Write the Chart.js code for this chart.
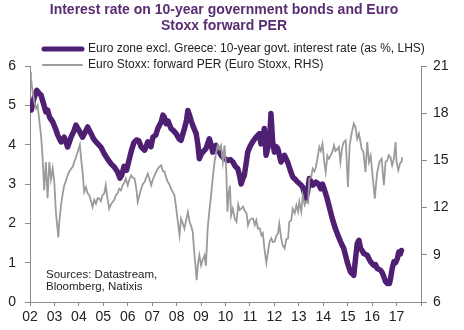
<!DOCTYPE html>
<html>
<head>
    <meta charset="UTF-8">
    <title>Interest rate on 10-year government bonds and Euro Stoxx forward PER</title>
    <script src="https://cdn.jsdelivr.net/npm/chart.js"></script>
    <style>
        html, body { margin: 0; padding: 0; background: #fff; }
        #wrap { position: relative; width: 464px; height: 330px; }
    </style>
</head>
<body>
<div id="wrap"><canvas id="myChart" width="464" height="330"></canvas></div>

<script>
    // Euro zone excl. Greece, 10-year govt. rate (%), [year, value]
    const rateSeries = [
        [2002.00, 5.05], [2002.05, 4.88], [2002.15, 5.15], [2002.28, 5.38], [2002.38, 5.30],
        [2002.45, 5.26], [2002.55, 5.05], [2002.65, 4.83], [2002.72, 4.88], [2002.80, 4.70],
        [2002.93, 4.58], [2003.05, 4.40], [2003.13, 4.25], [2003.27, 4.07], [2003.40, 4.19],
        [2003.54, 3.94], [2003.68, 4.19], [2003.80, 4.35], [2003.88, 4.50], [2004.00, 4.37],
        [2004.15, 4.19], [2004.28, 4.35], [2004.36, 4.45], [2004.50, 4.28], [2004.60, 4.15],
        [2004.70, 4.07], [2004.90, 3.94], [2005.04, 3.77], [2005.17, 3.64], [2005.31, 3.52],
        [2005.45, 3.43], [2005.58, 3.31], [2005.68, 3.15], [2005.75, 3.22], [2005.85, 3.45],
        [2005.95, 3.35], [2006.05, 3.60], [2006.15, 3.85], [2006.25, 4.05], [2006.36, 4.12],
        [2006.45, 4.10], [2006.55, 3.94], [2006.69, 3.86], [2006.82, 4.07], [2006.95, 3.95],
        [2007.03, 4.19], [2007.15, 4.25], [2007.23, 4.41], [2007.37, 4.58], [2007.44, 4.75],
        [2007.50, 4.70], [2007.57, 4.53], [2007.65, 4.60], [2007.77, 4.41], [2007.88, 4.35],
        [2007.98, 4.28], [2008.10, 4.15], [2008.18, 4.11], [2008.32, 4.41], [2008.40, 4.60],
        [2008.46, 4.87], [2008.53, 4.75], [2008.60, 4.60], [2008.66, 4.49], [2008.80, 4.28],
        [2008.87, 4.00], [2008.93, 3.64], [2009.00, 3.75], [2009.07, 3.81], [2009.20, 3.90],
        [2009.34, 4.15], [2009.41, 4.00], [2009.48, 3.81], [2009.55, 3.95], [2009.61, 3.98],
        [2009.72, 3.85], [2009.82, 3.73], [2009.95, 3.65], [2010.09, 3.60], [2010.20, 3.62],
        [2010.30, 3.56], [2010.40, 3.45], [2010.50, 3.39], [2010.58, 3.20], [2010.64, 3.00],
        [2010.70, 3.12], [2010.77, 3.22], [2010.85, 3.55], [2010.91, 3.81], [2011.00, 3.95],
        [2011.11, 4.07], [2011.25, 4.19], [2011.39, 4.28], [2011.45, 4.02], [2011.52, 4.15],
        [2011.59, 4.41], [2011.66, 3.73], [2011.72, 3.90], [2011.80, 4.07], [2011.86, 4.79],
        [2011.93, 4.07], [2012.00, 3.81], [2012.07, 3.95], [2012.14, 3.90], [2012.27, 3.56],
        [2012.41, 3.73], [2012.54, 3.56], [2012.65, 3.35], [2012.75, 3.18], [2012.85, 3.12],
        [2012.95, 3.05], [2013.08, 2.98], [2013.16, 2.92], [2013.29, 2.63], [2013.36, 2.80],
        [2013.43, 3.14], [2013.50, 3.05], [2013.57, 2.97], [2013.70, 3.05], [2013.80, 3.00],
        [2013.90, 2.88], [2013.97, 3.00], [2014.05, 2.85], [2014.15, 2.65], [2014.23, 2.46],
        [2014.37, 2.12], [2014.50, 1.86], [2014.60, 1.70], [2014.71, 1.53], [2014.84, 1.36],
        [2014.98, 1.02], [2015.05, 0.88], [2015.12, 0.76], [2015.25, 0.68], [2015.32, 1.10],
        [2015.39, 1.48], [2015.46, 1.57], [2015.53, 1.36], [2015.60, 1.30], [2015.66, 1.23],
        [2015.80, 1.19], [2015.87, 1.10], [2015.94, 1.02], [2016.07, 0.93], [2016.14, 0.95],
        [2016.21, 0.85], [2016.34, 0.81], [2016.41, 0.75], [2016.48, 0.64], [2016.55, 0.52],
        [2016.62, 0.47], [2016.71, 0.47], [2016.76, 0.62], [2016.82, 0.85], [2016.89, 1.02],
        [2016.96, 1.00], [2017.03, 1.10], [2017.09, 1.27], [2017.15, 1.22], [2017.20, 1.31]
    ];

    // Euro Stoxx forward PER, [year, value]
    const perSeries = [
        [2002.00, 20.6], [2002.04, 20.2], [2002.11, 19.35], [2002.18, 18.7], [2002.25, 18.3],
        [2002.31, 18.5], [2002.38, 17.55], [2002.45, 16.6], [2002.52, 15.1], [2002.58, 13.1],
        [2002.65, 14.9], [2002.72, 12.6], [2002.79, 14.9], [2002.86, 13.8], [2002.93, 14.5],
        [2003.00, 13.5], [2003.06, 11.7], [2003.16, 10.1], [2003.20, 11.1], [2003.27, 12.15],
        [2003.34, 12.9], [2003.40, 13.4], [2003.47, 13.7], [2003.54, 14.05], [2003.61, 14.3],
        [2003.68, 14.47], [2003.75, 14.6], [2003.81, 14.9], [2003.88, 15.2], [2003.95, 15.54],
        [2004.04, 16.0], [2004.10, 15.0], [2004.15, 14.26], [2004.22, 13.0], [2004.29, 13.3],
        [2004.36, 12.9], [2004.43, 12.78], [2004.50, 12.4], [2004.56, 12.04], [2004.63, 12.5],
        [2004.70, 12.25], [2004.77, 12.6], [2004.83, 12.57], [2004.90, 12.4], [2004.97, 12.8],
        [2005.04, 12.9], [2005.10, 13.42], [2005.17, 12.6], [2005.24, 11.93], [2005.31, 12.2],
        [2005.38, 12.36], [2005.45, 12.5], [2005.51, 12.78], [2005.58, 12.9], [2005.65, 13.2],
        [2005.72, 13.1], [2005.79, 13.42], [2005.86, 13.6], [2005.92, 13.84], [2006.00, 13.42],
        [2006.07, 13.8], [2006.14, 14.05], [2006.21, 13.9], [2006.28, 13.84], [2006.35, 13.2],
        [2006.41, 12.36], [2006.48, 12.8], [2006.55, 13.2], [2006.62, 13.5], [2006.69, 13.63],
        [2006.75, 13.9], [2006.82, 14.16], [2006.89, 13.8], [2006.96, 13.42], [2007.03, 13.8],
        [2007.10, 14.05], [2007.17, 14.3], [2007.23, 14.47], [2007.30, 14.6], [2007.37, 14.69],
        [2007.44, 14.3], [2007.50, 14.3], [2007.57, 13.9], [2007.64, 13.63], [2007.70, 13.5],
        [2007.77, 13.2], [2007.84, 13.0], [2007.91, 12.78], [2007.98, 12.0], [2008.05, 11.09],
        [2008.12, 10.24], [2008.18, 11.3], [2008.25, 11.0], [2008.32, 10.66], [2008.39, 11.2],
        [2008.46, 11.72], [2008.53, 11.1], [2008.60, 10.8], [2008.66, 10.45], [2008.73, 8.97],
        [2008.78, 8.2], [2008.82, 7.38], [2008.88, 8.5], [2008.93, 8.97], [2009.00, 8.33],
        [2009.07, 8.7], [2009.14, 8.97], [2009.20, 8.3], [2009.27, 10.66], [2009.34, 11.8],
        [2009.41, 12.78], [2009.48, 13.9], [2009.55, 14.9], [2009.62, 15.5], [2009.68, 15.96],
        [2009.75, 15.7], [2009.82, 15.96], [2009.89, 14.9], [2009.96, 15.96], [2010.03, 14.4],
        [2010.08, 11.74], [2010.13, 12.9], [2010.18, 13.4], [2010.23, 11.5], [2010.30, 11.93],
        [2010.38, 11.3], [2010.45, 11.1], [2010.52, 12.2], [2010.58, 11.85], [2010.65, 11.93],
        [2010.72, 12.06], [2010.79, 11.8], [2010.86, 11.64], [2010.92, 10.87], [2010.99, 11.2],
        [2011.06, 11.3], [2011.13, 11.3], [2011.20, 10.9], [2011.26, 11.2], [2011.33, 10.66],
        [2011.40, 10.68], [2011.47, 10.24], [2011.53, 10.37], [2011.60, 9.3], [2011.67, 8.5],
        [2011.74, 9.2], [2011.80, 9.8], [2011.87, 10.05], [2011.94, 9.8], [2012.01, 9.84],
        [2012.08, 10.2], [2012.15, 10.37], [2012.20, 10.98], [2012.28, 10.05], [2012.34, 9.6],
        [2012.42, 9.41], [2012.49, 10.0], [2012.56, 10.05], [2012.61, 11.09], [2012.69, 11.2],
        [2012.75, 11.93], [2012.83, 11.64], [2012.90, 12.15], [2012.97, 11.74], [2013.02, 12.36],
        [2013.10, 11.74], [2013.16, 12.78], [2013.24, 12.17], [2013.30, 12.4], [2013.38, 12.3],
        [2013.43, 13.84], [2013.50, 13.9], [2013.57, 14.47], [2013.64, 14.3], [2013.70, 14.6],
        [2013.77, 15.2], [2013.84, 15.85], [2013.90, 15.6], [2013.97, 16.06], [2014.04, 14.9],
        [2014.10, 14.26], [2014.17, 15.3], [2014.23, 15.1], [2014.30, 15.3], [2014.37, 15.54],
        [2014.44, 15.96], [2014.50, 15.6], [2014.57, 15.7], [2014.64, 15.85], [2014.70, 14.9],
        [2014.77, 15.8], [2014.84, 16.17], [2014.92, 16.27], [2015.01, 13.31], [2015.08, 15.96],
        [2015.16, 16.7], [2015.25, 17.34], [2015.32, 17.1], [2015.39, 16.38], [2015.46, 16.7],
        [2015.52, 16.2], [2015.57, 15.75], [2015.64, 15.54], [2015.73, 14.26], [2015.80, 16.17],
        [2015.87, 14.9], [2015.94, 15.3], [2016.03, 13.84], [2016.11, 12.57], [2016.16, 13.5],
        [2016.21, 14.26], [2016.30, 14.9], [2016.39, 15.1], [2016.48, 13.42], [2016.55, 14.9],
        [2016.62, 15.0], [2016.68, 15.33], [2016.75, 15.2], [2016.82, 14.69], [2016.89, 15.1],
        [2016.96, 16.17], [2017.00, 14.9], [2017.07, 14.37], [2017.14, 14.8], [2017.20, 14.9],
        [2017.23, 15.2]
    ];

    const titleLines = ['Interest rate on 10-year government bonds and Euro', 'Stoxx forward PER'];
    const legendLabels = [
        'Euro zone excl. Greece: 10-year govt. interest rate (as %, LHS)',
        'Euro Stoxx: forward PER (Euro Stoxx, RHS)'
    ];
    const sourceLines = ['Sources: Datastream,', 'Bloomberg, Natixis'];

    const PURPLE = '#4e1f72';
    const GREY = '#9b9b9b';
    const AXIS = '#8a8a8a';
    const FONT = '"Liberation Sans", Arial, sans-serif';

    const toPoints = s => s.map(p => ({ x: p[0], y: p[1] }));

    // title, legend and source note drawn on top of the chart
    const decorations = {
        id: 'decorations',
        afterDraw(chart) {
            const ctx = chart.ctx;
            ctx.save();
            ctx.fillStyle = '#5a2d73';
            ctx.font = 'bold 14px ' + FONT;
            ctx.textAlign = 'center';
            ctx.textBaseline = 'alphabetic';
            ctx.fillText(titleLines[0], 224, 14);
            ctx.fillText(titleLines[1], 224, 30);

            ctx.lineCap = 'round';
            ctx.strokeStyle = PURPLE;
            ctx.lineWidth = 5;
            ctx.beginPath(); ctx.moveTo(44, 49); ctx.lineTo(82, 49); ctx.stroke();
            ctx.strokeStyle = GREY;
            ctx.lineWidth = 2;
            ctx.beginPath(); ctx.moveTo(43, 65); ctx.lineTo(82, 65); ctx.stroke();

            ctx.fillStyle = '#222';
            ctx.font = '12px ' + FONT;
            ctx.textAlign = 'left';
            ctx.textBaseline = 'middle';
            ctx.fillText(legendLabels[0], 88, 49);
            ctx.fillText(legendLabels[1], 88, 65);

            ctx.font = '11.5px ' + FONT;
            ctx.fillText(sourceLines[0], 46, 275);
            ctx.fillText(sourceLines[1], 46, 287);
            ctx.restore();
        }
    };

    const ctx = document.getElementById('myChart').getContext('2d');
    const myChart = new Chart(ctx, {
        type: 'line',
        data: {
            datasets: [{
                label: legendLabels[1],
                data: toPoints(perSeries),
                yAxisID: 'yRight',
                borderColor: GREY,
                borderWidth: 1.8,
                pointRadius: 0,
                tension: 0,
                order: 0
            }, {
                label: legendLabels[0],
                data: toPoints(rateSeries),
                yAxisID: 'y',
                borderColor: PURPLE,
                borderWidth: 5.5,
                borderJoinStyle: 'round',
                borderCapStyle: 'round',
                pointRadius: 0,
                tension: 0,
                order: 1
            }]
        },
        options: {
            responsive: false,
            animation: false,
            layout: { padding: { top: 66, left: 0, right: 0, bottom: 0 } },
            plugins: {
                legend: { display: false },
                title: { display: false },
                tooltip: { enabled: false }
            },
            scales: {
                x: {
                    type: 'linear',
                    min: 2002,
                    max: 2018,
                    afterFit(scale) { scale.height = 28; },
                    border: { color: AXIS, width: 1 },
                    grid: { drawOnChartArea: false, tickLength: 4, color: AXIS },
                    ticks: {
                        stepSize: 1,
                        padding: 3,
                        color: '#222',
                        font: { family: FONT, size: 14 },
                        maxRotation: 0,
                        autoSkip: false,
                        callback: v => (v >= 2018 ? '' : String(v).slice(2))
                    }
                },
                y: {
                    position: 'left',
                    min: 0,
                    max: 6,
                    afterFit(scale) { scale.width = 30; },
                    border: { color: AXIS, width: 1 },
                    grid: { drawOnChartArea: false, tickLength: 5, color: AXIS },
                    ticks: {
                        stepSize: 1,
                        padding: 9,
                        color: '#222',
                        font: { family: FONT, size: 14 }
                    }
                },
                yRight: {
                    position: 'right',
                    min: 6,
                    max: 21,
                    afterFit(scale) { scale.width = 43; },
                    border: { color: AXIS, width: 1 },
                    grid: { drawOnChartArea: false, tickLength: 6, color: AXIS },
                    ticks: {
                        stepSize: 3,
                        padding: 6,
                        color: '#222',
                        font: { family: FONT, size: 14 }
                    }
                }
            }
        },
        plugins: [decorations]
    });
</script>
</body>
</html>
